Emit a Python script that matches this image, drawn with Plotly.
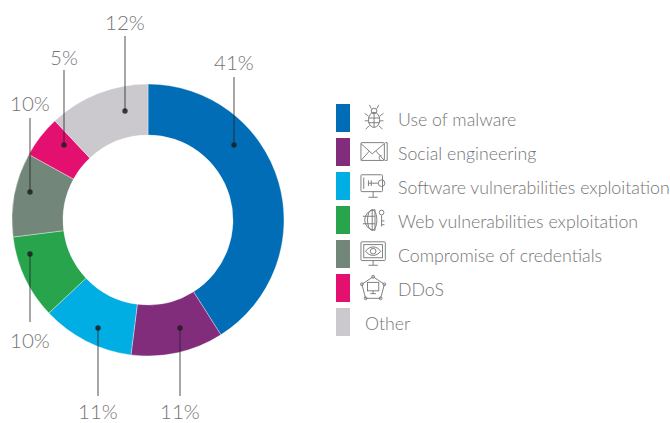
import base64
import plotly.graph_objects as go

W, H = 670, 423

categories = ["Use of malware", "Social engineering", "Software vulnerabilities exploitation",
              "Web vulnerabilities exploitation", "Compromise of credentials", "DDoS", "Other"]
shares = [41, 11, 11, 10, 10, 5, 12]
colors = ["#006db6", "#812d7c", "#00aee4", "#27a44c", "#72877a", "#e3106f", "#cbc9cd"]

# Leader geometry in page pixels: dot x, dot y, far end y, label y
leaders = [(234, 145, 77, 62), (180, 328, 396, 411), (98, 328, 396, 411),
           (30, 254, 322, 340), (30, 192, 118, 103), (64, 145, 70, 57), (125, 111, 36, 22)]

GREY = "#757576"
TEXT_FONT = dict(family="Lato", size=17.75, color=GREY, weight=300)


def px(x):
    return x / W


def py(y):
    return 1 - y / H


ICONS = {
    "bug": '<ellipse cx="15" cy="17" rx="6" ry="8"/><circle cx="15" cy="7.500" r="3"/>'
           '<path d="M9 15H21M9 20H21M15 10V25M12 5L10 1M18 5L20 1M9 13L5 10M21 13L25 10'
           'M9 18H5M21 18H25M10 23L6 27M20 23L24 27"/>',
    "mail": '<rect x="1" y="5" width="25" height="19" rx="1"/><path d="M27 5H29V24H27"/>'
            '<path d="M1 6L13 17L26 6M1 24L10 14M26 24L17 14M22 24C19 21 21 18 23 19"/>',
    "key_screen": '<rect x="1" y="3" width="23" height="18" rx="1"/><path d="M4 6V18M9 27H19M14 21V27"/>'
                  '<circle cx="23" cy="12" r="3.500"/><path d="M9 12H19M9 9V15M12 9V15"/>',
    "globe": '<path d="M16 4A10.500 10.500 0 1 0 16 26Z"/><ellipse cx="13" cy="15" rx="5" ry="11"/>'
             '<path d="M3 11H16M3 19H16M13 4V26"/><circle cx="23" cy="7" r="2.500"/><path d="M23 10V22M23 16H26M23 20H26"/>',
    "eye_screen": '<rect x="1" y="2" width="26" height="20" rx="1"/><rect x="4" y="5" width="20" height="14"/>'
                  '<path d="M6 12C10 6 18 6 22 12C18 18 10 18 6 12Z M9 27H19M14 22V27"/><circle cx="14" cy="12" r="3"/>',
    "network": '<path d="M14 3L26 11L22 26H6L2 11Z"/><rect x="8" y="9" width="12" height="9"/><path d="M11 21H17M14 18V21"/>'
               '<circle cx="14" cy="3" r="1.500"/><circle cx="26" cy="11" r="1.500"/><circle cx="22" cy="26" r="1.500"/>'
               '<circle cx="6" cy="26" r="1.500"/><circle cx="2" cy="11" r="1.500"/>',
}
icon_names = ["bug", "mail", "key_screen", "globe", "eye_screen", "network"]

fig = go.Figure(go.Pie(
    labels=categories, values=shares, sort=False, direction="clockwise", rotation=0,
    hole=0.625, marker=dict(colors=colors, line=dict(color="rgba(255,255,255,0.6)", width=0.6)),
    textinfo="none", showlegend=False, hoverinfo="label+percent",
    domain=dict(x=[px(12), px(284)], y=[py(356), py(84)]),
))

shapes, annotations, images = [], [], []

# Leader lines with their dots and percentage labels
for (x, dot_y, end_y, label_y), share in zip(leaders, shares):
    shapes.append(dict(type="line", xref="paper", yref="paper", x0=px(x), x1=px(x), y0=py(dot_y), y1=py(end_y),
                       line=dict(color="rgba(35,35,35,0.62)", width=1.3)))
    shapes.append(dict(type="circle", xref="paper", yref="paper", x0=px(x - 2.7), x1=px(x + 2.7),
                       y0=py(dot_y + 2.7), y1=py(dot_y - 2.7), fillcolor="rgba(30,30,30,0.85)", line_width=0))
    annotations.append(dict(text=f"{share}%", xref="paper", yref="paper", x=px(x), y=py(label_y),
                            showarrow=False, xanchor="center", yanchor="middle",
                            font=dict(family="Lato", size=20.5, color=GREY, weight=300)))

# Hand-built legend: swatch, pictogram and label on a 34 px pitch
for i, (name, color) in enumerate(zip(categories, colors)):
    top = 104 + 34 * i
    shapes.append(dict(type="rect", xref="paper", yref="paper", x0=px(336), x1=px(350),
                       y0=py(top + 28), y1=py(top), fillcolor=color, line_width=0))
    annotations.append(dict(text=name, xref="paper", yref="paper", x=px(396 if i < 6 else 363), y=py(top + 14.5),
                            showarrow=False, xanchor="left", yanchor="middle", font=TEXT_FONT))
    if i < 6:
        svg = ('<svg xmlns="http://www.w3.org/2000/svg" width="30" height="30" viewBox="0 0 32 30" '
               'fill="none" stroke="#7a7a7a" stroke-width="1">' + ICONS[icon_names[i]] + '</svg>')
        uri = "data:image/svg+xml;base64," + base64.b64encode(svg.encode()).decode()
        images.append(dict(source=uri, xref="paper", yref="paper", x=px(360), y=py(top - 1),
                           sizex=px(30), sizey=30 / H, xanchor="left", yanchor="top", layer="above"))

fig.update_layout(width=W, height=H, margin=dict(l=0, r=0, t=0, b=0), paper_bgcolor="white",
                  shapes=shapes, annotations=annotations, images=images)
fig.write_html("out.html")
